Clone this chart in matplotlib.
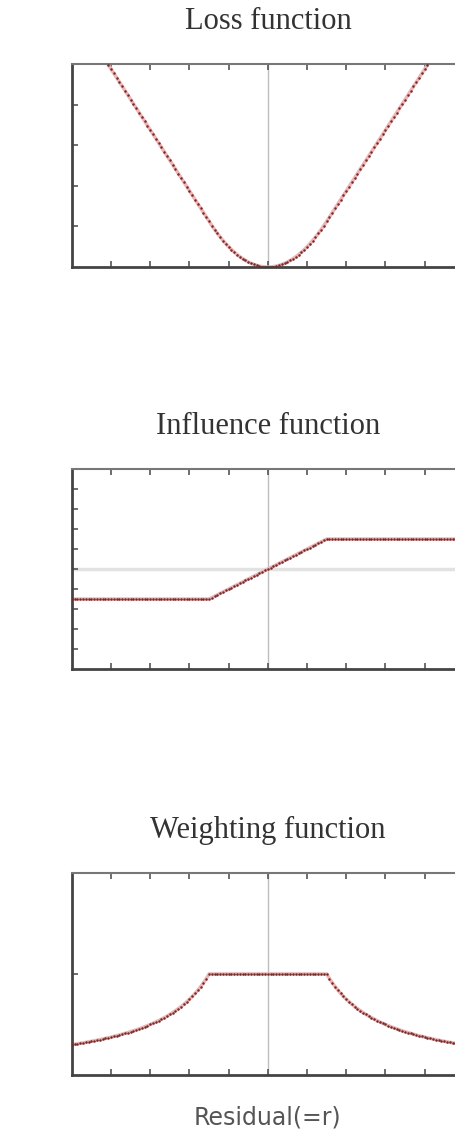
import numpy as np
import matplotlib
matplotlib.use("Agg")
from matplotlib import pyplot as plt

# Huber M-estimator, tuning constant read off the kinks (r = +-1.5)
c = 1.5
r_min, r_max, n_points = -5.0, 5.0, 141
titles = ["Loss function", "Influence function", "Weighting function"]
xlabel = "Residual(=r)"
x_ticks = [-4, -3, -2, -1, 0, 1, 2, 3, 4]
y_limits = [(0, 5), (-5, 5), (0, 2)]
y_ticks = [[1, 2, 3, 4], [-4, -3, -2, -1, 0, 1, 2, 3, 4], [1]]

r = np.linspace(r_min, r_max, n_points)
loss = np.where(np.abs(r) <= c, r**2 / 2, c * np.abs(r) - c**2 / 2)
influence = np.clip(r, -c, c)
weight = np.where(np.abs(r) <= c, 1.0, c / np.maximum(np.abs(r), 1e-9))
curves = [loss, influence, weight]

fig = plt.figure(figsize=(4.55, 11.33), dpi=100)
# axes boxes in figure fraction; right edge runs past the picture like the original
boxes = [
    [0.158, 0.7643, 0.8615, 0.1792],
    [0.158, 0.4095, 0.8615, 0.1765],
    [0.158, 0.0512, 0.8615, 0.1783],
]

for i in range(3):
    ax = fig.add_axes(boxes[i])
    ax.axvline(0, color="#bdbdbd", lw=1.0, zorder=1)
    if i == 1:
        ax.axhline(0, color="#e2e2e2", lw=2.5, zorder=1)
    ax.plot(r, curves[i], color="#f0b4b4", lw=2.5, zorder=2)
    ax.plot(r, curves[i], ls="none", marker="o", ms=1.8,
            color="#6e2c2c", mew=0, zorder=3)
    ax.set_xlim(r_min, r_max)
    ax.set_ylim(*y_limits[i])
    ax.set_xticks(x_ticks)
    ax.set_yticks(y_ticks[i])
    ax.tick_params(direction="in", length=4, width=1.2, color="#555555",
                   top=True, bottom=True, left=True, right=False,
                   labelbottom=False, labelleft=False)
    for side in ["left", "bottom"]:
        ax.spines[side].set_color("#444444")
        ax.spines[side].set_linewidth(2.0)
    ax.spines["top"].set_color("#777777")
    ax.spines["top"].set_linewidth(1.5)
    ax.spines["right"].set_visible(False)
    ax.set_title(titles[i], family="Liberation Serif", fontsize=22,
                 color="#333333", pad=25)
    if i == 2:
        ax.set_xlabel(xlabel, family="DejaVu Sans", fontsize=17,
                      color="#555555", labelpad=22)

fig.savefig("out.png", dpi=100)
